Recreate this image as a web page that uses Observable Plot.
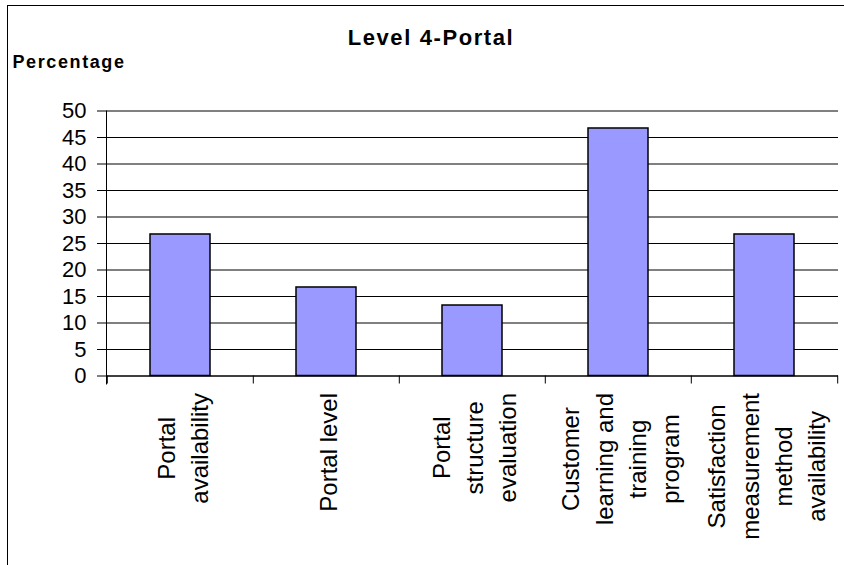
<!DOCTYPE html>
<html>
<head>
<meta charset="utf-8">
<script src="https://cdn.jsdelivr.net/npm/d3@7"></script>
<script src="https://cdn.jsdelivr.net/npm/@observablehq/plot@0.6"></script>
<style>
  html, body { margin: 0; padding: 0; background: #fff; }
  #chart { position: relative; width: 844px; height: 565px; overflow: hidden; }
  #chart .edge {
    position: absolute; left: 7px; top: 5px; right: 0; bottom: 0;
    border-left: 1px solid #000; border-top: 1px solid #000;
    pointer-events: none;
  }
  #chart svg g[font-weight="bold"] { letter-spacing: 1.6px; }
</style>
</head>
<body>
<div id="chart"><div class="edge"></div></div>
<script>
// Survey results for the portal level
const title = "Level 4-Portal";
const yLabel = "Percentage";
const categories = [
  "Portal availability",
  "Portal level",
  "Portal structure evaluation",
  "Customer learning and training program",
  "Satisfaction measurement method availability"
];
// category names as they wrap under the axis
const wrappedLabels = [
  "Portal\navailability",
  "Portal level",
  "Portal\nstructure\nevaluation",
  "Customer\nlearning and\ntraining\nprogram",
  "Satisfaction\nmeasurement\nmethod\navailability"
];
const percentages = [26.7, 16.7, 13.3, 46.7, 26.7];
const yTicks = [0, 5, 10, 15, 20, 25, 30, 35, 40, 45, 50];

const FONT = "'Liberation Sans', Arial, Helvetica, sans-serif";
const W = 844, H = 565;
const mL = 106, mR = 6, mT = 110.5, mB = 189.5;
const labelSize = 24;

const rows = categories.map((c, i) => ({category: c, label: wrappedLabels[i], value: percentages[i]}));

// band geometry: evenly spaced slots with a narrow bar in each
const step = (W - mL - mR) / categories.length;
const barWidth = 60;
const inner = 1 - barWidth / step;

// place each wrapped label so its longest line starts just below the axis
const ctx = document.createElement("canvas").getContext("2d");
ctx.font = `${labelSize}px ${FONT}`;
const pxPerUnit = (H - mT - mB) / (yTicks[yTicks.length - 1] - yTicks[0]);
const labelGap = 17;
const labelY = (label) => {
  const w = d3.max(label.split("\n"), (s) => ctx.measureText(s).width);
  return -(labelGap + w / 2) / pxPerUnit;
};

const chart = Plot.plot({
  width: W,
  height: H,
  marginLeft: mL,
  marginRight: mR,
  marginTop: mT,
  marginBottom: mB,
  style: {fontFamily: FONT, background: "transparent", color: "#000", overflow: "visible"},
  x: {domain: categories, paddingInner: inner, paddingOuter: inner / 2, axis: null},
  y: {domain: [0, 50], axis: null},
  marks: [
    Plot.gridY(yTicks, {stroke: "#000", strokeOpacity: 1, strokeWidth: 1}),
    Plot.axisY(yTicks, {tickSize: 9, tickPadding: 11, fontSize: 22, tickFormat: (d) => String(d), stroke: "#000", label: null}),
    Plot.barY(rows, {x: "category", y: "value", fill: "#9999FF", stroke: "#000", strokeWidth: 1.5}),
    Plot.frame({anchor: "left", stroke: "#000", insetBottom: -8}),
    Plot.ruleY([0], {stroke: "#000"}),
    // category separators below the axis
    Plot.ruleX(categories, {x: (d) => d, y1: 0, y2: 0, dx: -step / 2, insetBottom: -8, stroke: "#000"}),
    Plot.ruleX(categories.slice(-1), {x: (d) => d, y1: 0, y2: 0, dx: step / 2, insetBottom: -8, stroke: "#000"}),
    Plot.text(rows, {
      x: "category",
      y: (d) => labelY(d.label),
      text: "label",
      rotate: -90,
      textAnchor: "middle",
      lineAnchor: "middle",
      lineHeight: 1.38,
      fontSize: labelSize,
      fill: "#000"
    }),
    Plot.text([title], {
      frameAnchor: "top-left", dx: 430.5 - mL, dy: 44 - mT,
      textAnchor: "middle", lineAnchor: "bottom",
      fontSize: 22, fontWeight: "bold", fill: "#000"
    }),
    Plot.text([yLabel], {
      frameAnchor: "top-left", dx: 12 - mL, dy: 67.7 - mT,
      textAnchor: "start", lineAnchor: "bottom",
      fontSize: 18, fontWeight: "bold", fill: "#000"
    })
  ]
});

document.getElementById("chart").prepend(chart);
</script>
</body>
</html>
